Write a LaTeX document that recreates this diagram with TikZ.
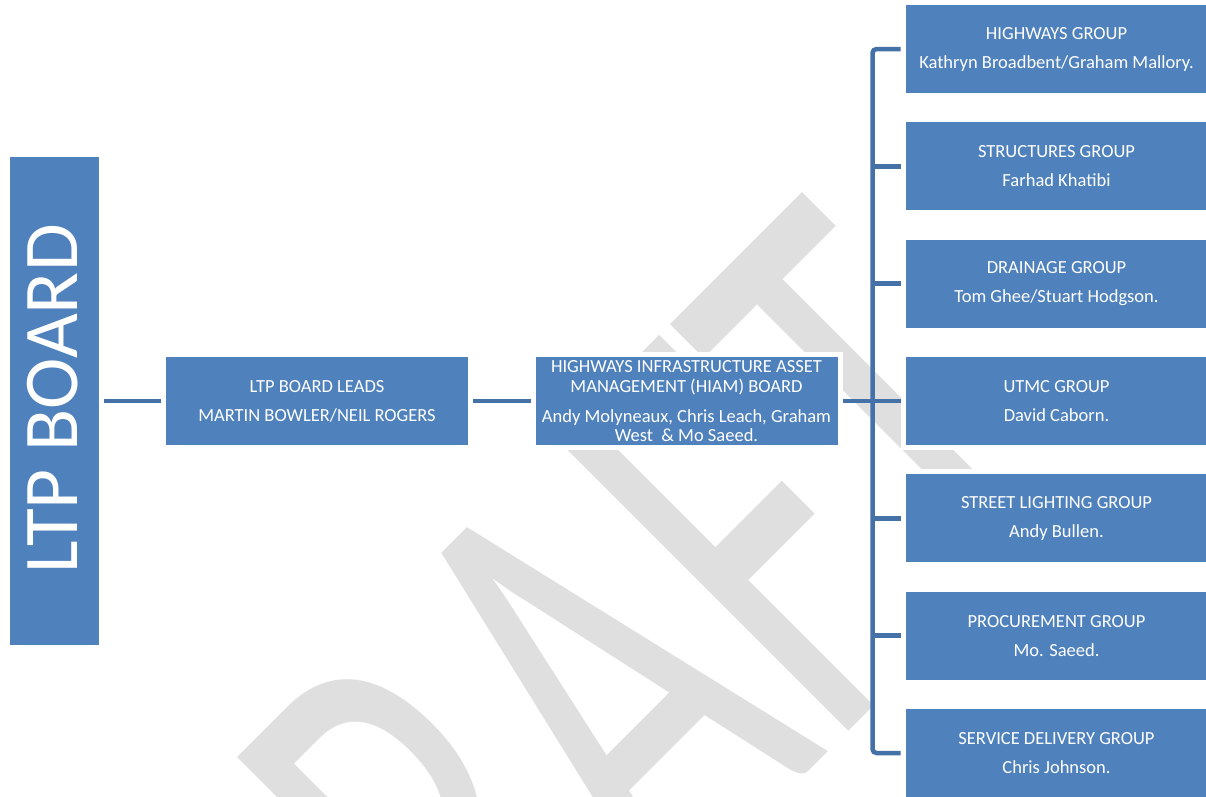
\documentclass[tikz,border=0pt]{standalone}
\usepackage{fontspec}
\setmainfont{Carlito}
\definecolor{boxblue}{RGB}{79,129,189}
\definecolor{linkblue}{RGB}{68,114,168}
\definecolor{draftgrey}{RGB}{223,223,223}
\begin{document}
\begin{tikzpicture}[x=1pt, y=-1pt,
  every node/.style={font=\fontsize{18.5}{20}\selectfont, text=white},
  grpbox/.style={draw=white, line width=5pt, fill=boxblue, minimum width=307pt, minimum height=93pt, inner sep=0pt, align=center},
  link/.style={draw=linkblue, line width=4.5pt}]
\useasboundingbox (0,0) rectangle (1206,796);
% watermark
\begin{scope}
\clip (0,0) rectangle (1206,796);
\node[anchor=base west, rotate=45, yscale=1.6, inner sep=0pt, text=draftgrey, font=\fontsize{403}{403}\selectfont] (draft) at (334,1246) {DRAFT};
\end{scope}
% board
\node[grpbox, minimum width=94pt, minimum height=493pt] (ltp) at (54.5,401) {};
\node[rotate=90, font=\fontsize{77.5}{80}\selectfont] (ltptxt) at (53,399) {LTP BOARD};
% leads and HIAM board
\node[grpbox] (leads) at (317,401) {LTP BOARD LEADS\\[9pt]MARTIN BOWLER/NEIL ROGERS};
\node[grpbox] (hiam) at (686.5,401) {HIGHWAYS INFRASTRUCTURE ASSET\\MANAGEMENT (HIAM) BOARD\\[10pt]Andy Molyneaux, Chris Leach, Graham\\[-1pt]West~ \& Mo Saeed.};
% groups
\node[grpbox] (hwy) at (1056.5,49) {HIGHWAYS GROUP\\[9pt]Kathryn Broadbent/Graham Mallory.};
\node[grpbox] (str) at (1056.5,166.3) {STRUCTURES GROUP\\[9pt]Farhad Khatibi};
\node[grpbox] (drn) at (1056.5,283.7) {DRAINAGE GROUP\\[9pt]Tom Ghee/Stuart Hodgson.};
\node[grpbox] (utmc) at (1056.5,401) {UTMC GROUP\\[9pt]David Caborn.};
\node[grpbox] (lgt) at (1056.5,518.3) {STREET LIGHTING GROUP\\[9pt]Andy Bullen.};
\node[grpbox] (prc) at (1056.5,635.7) {PROCUREMENT GROUP\\[9pt]Mo. Saeed.};
\node[grpbox] (sdg) at (1056.5,753) {SERVICE DELIVERY GROUP\\[9pt]Chris Johnson.};
% connectors
\draw[link] (ltp.east) -- (leads.west);
\draw[link] (leads.east) -- (hiam.west);
\draw[link] (hiam.east) -- (utmc.west);
\draw[link, rounded corners=4pt] (hwy.west) -- ++(-28,0) |- (sdg.west);
\foreach \n in {str,drn,lgt,prc} \draw[link] (\n.west) -- ++(-30,0);
\end{tikzpicture}
\end{document}
